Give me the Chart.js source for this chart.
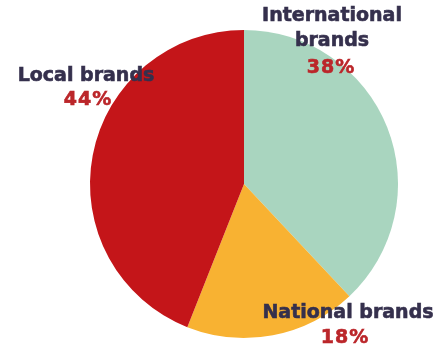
<!DOCTYPE html>
<html>
<head>
<meta charset="utf-8">
<script src="https://cdn.jsdelivr.net/npm/chart.js@4.4.1/dist/chart.umd.min.js"></script>
<style>
    html, body { margin: 0; padding: 0; background: #ffffff; }
    #wrap { width: 440px; height: 347px; position: relative; }
</style>
</head>
<body>
<div id="wrap"><canvas id="brandPie"></canvas></div>
<script>
// 品牌份额数据
const categories = ['International brands', 'National brands', 'Local brands'];
const shares = [38, 18, 44];
const sliceColors = ['#a9d5bf', '#f8b232', '#c41519'];

// 标签相对圆心的偏移 (px): 名称各行 + 百分比
const labelLayout = [
    { lines: ['International', 'brands'], dx: 88, dy: [-168, -143], pdx: 87, pdy: -116 },
    { lines: ['National brands'], dx: 104, dy: [129], pdx: 101, pdy: 154 },
    { lines: ['Local brands'], dx: -158, dy: [-108], pdx: -156, pdy: -84 }
];

// 自定义标签插件
const pieLabels = {
    id: 'pieLabels',
    afterDatasetsDraw(chart) {
        const arc = chart.getDatasetMeta(0).data[0];
        if (!arc) return;
        const cx = arc.x, cy = arc.y;
        const ctx = chart.ctx;
        ctx.save();
        ctx.textAlign = 'center';
        ctx.textBaseline = 'middle';
        ctx.font = 'bold 19px "DejaVu Sans", Verdana, sans-serif';
        ctx.lineWidth = 0.6;
        labelLayout.forEach(function(l, i) {
            ctx.fillStyle = ctx.strokeStyle = '#35304d';
            ctx.letterSpacing = '0px';
            l.lines.forEach(function(txt, j) {
                ctx.fillText(txt, cx + l.dx, cy + l.dy[j]);
                ctx.strokeText(txt, cx + l.dx, cy + l.dy[j]);
            });
            ctx.fillStyle = ctx.strokeStyle = '#bb262a';
            ctx.letterSpacing = '1px';
            ctx.fillText(shares[i] + '%', cx + l.pdx, cy + l.pdy);
            ctx.strokeText(shares[i] + '%', cx + l.pdx, cy + l.pdy);
        });
        ctx.restore();
    }
};

try {
    new Chart(document.getElementById('brandPie').getContext('2d'), {
        type: 'pie',
        data: {
            labels: categories,
            datasets: [{
                data: shares,
                backgroundColor: sliceColors,
                borderWidth: 0
            }]
        },
        options: {
            responsive: true,
            maintainAspectRatio: false,
            animation: false,
            layout: {
                padding: { top: 30, bottom: 9, left: 90, right: 42 }
            },
            plugins: {
                legend: { display: false },
                tooltip: { enabled: false }
            }
        },
        plugins: [pieLabels]
    });
} catch (error) {
    console.error("饼图渲染失败:", error);
}
</script>
</body>
</html>
